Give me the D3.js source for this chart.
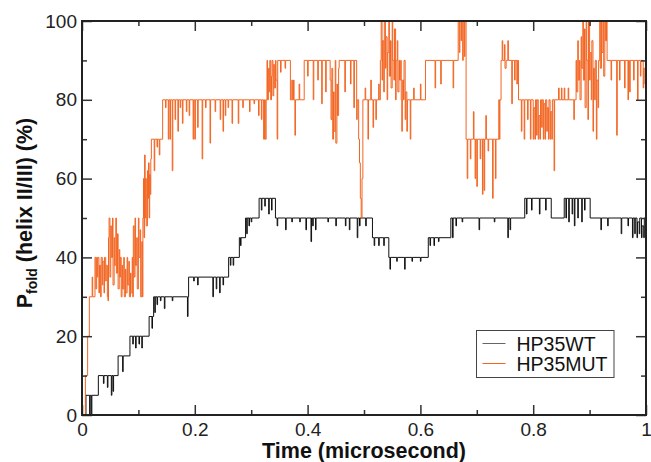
<!DOCTYPE html>
<html>
<head>
<meta charset="utf-8">
<script src="https://cdn.jsdelivr.net/npm/d3@7"></script>
<style>
  body { margin: 0; background: #fff; }
  text { font-family: "Liberation Sans", Arial, Helvetica, sans-serif; }
</style>
</head>
<body>
<div id="chart"></div>
<script>
// axis ticks
const timeTicks = [0, 0.2, 0.4, 0.6, 0.8, 1];
const timeMinorTicks = [0.1, 0.3, 0.5, 0.7, 0.9];
const pfoldTicks = [0, 20, 40, 60, 80, 100];
const pfoldMinorTicks = [10, 30, 50, 70, 90];
const seriesNames = ["HP35WT", "HP35MUT"];

// [time (microsecond), Pfold (%)], step-after
const wtTrace = [
  [0.000, 0], [0.007, 5], [0.0135, 0], [0.0145, 5], [0.0165, 0], [0.0175, 5], [0.029, 10], [0.038, 8], [0.039, 10],
  [0.045, 7], [0.046, 10], [0.052, 5], [0.053, 10], [0.055, 6], [0.056, 10], [0.064, 15], [0.072, 11], [0.073, 15],
  [0.085, 20], [0.090, 18], [0.091, 20], [0.095, 17], [0.096, 20], [0.101, 18], [0.102, 20], [0.106, 17], [0.107, 20],
  [0.119, 25], [0.124, 22], [0.125, 25], [0.127, 30], [0.129, 26], [0.130, 30], [0.133, 28], [0.134, 30], [0.139, 29],
  [0.140, 30], [0.146, 27], [0.147, 30], [0.160, 29], [0.161, 30], [0.187, 25], [0.188, 30], [0.189, 35], [0.198, 34],
  [0.199, 35], [0.205, 33], [0.206, 35], [0.232, 30], [0.233, 35], [0.238, 32], [0.239, 35], [0.244, 31], [0.245, 35],
  [0.250, 33], [0.251, 35], [0.260, 40], [0.263, 38], [0.264, 40], [0.268, 38], [0.269, 40], [0.279, 45], [0.281, 43],
  [0.282, 45], [0.290, 50], [0.292, 46], [0.293, 50], [0.296, 48], [0.297, 50], [0.300, 49], [0.301, 50], [0.314, 55],
  [0.318, 52], [0.319, 55], [0.324, 53], [0.325, 55], [0.331, 51], [0.332, 55], [0.336, 52], [0.337, 55], [0.343, 50],
  [0.346, 48], [0.347, 50], [0.361, 47], [0.362, 50], [0.372, 49], [0.373, 50], [0.386, 49], [0.387, 50], [0.397, 47],
  [0.398, 50], [0.406, 44], [0.407, 50], [0.409, 48], [0.410, 50], [0.414, 47], [0.415, 50], [0.436, 49], [0.437, 50],
  [0.450, 48], [0.451, 50], [0.467, 48], [0.468, 50], [0.474, 47], [0.475, 50], [0.488, 45], [0.489, 50], [0.492, 48],
  [0.493, 50], [0.503, 48], [0.504, 50], [0.515, 45], [0.518, 43], [0.519, 45], [0.526, 43], [0.527, 45], [0.535, 43],
  [0.536, 45], [0.544, 40], [0.546, 37], [0.547, 40], [0.558, 39], [0.559, 40], [0.572, 37], [0.573, 40], [0.585, 39],
  [0.586, 40], [0.600, 39], [0.601, 40], [0.614, 45], [0.617, 43], [0.618, 45], [0.624, 43], [0.625, 45], [0.632, 44],
  [0.633, 45], [0.654, 50], [0.657, 45], [0.658, 50], [0.663, 48], [0.664, 50], [0.674, 49], [0.675, 50], [0.704, 47],
  [0.705, 50], [0.731, 49], [0.732, 50], [0.755, 45], [0.756, 50], [0.759, 47], [0.760, 50], [0.785, 55], [0.788, 51],
  [0.789, 55], [0.797, 52], [0.798, 55], [0.811, 51], [0.812, 55], [0.822, 52], [0.823, 55], [0.832, 50], [0.855, 55],
  [0.858, 50], [0.859, 55], [0.863, 49], [0.864, 55], [0.869, 51], [0.870, 55], [0.873, 48], [0.874, 55], [0.879, 50],
  [0.880, 55], [0.886, 49], [0.887, 55], [0.891, 52], [0.892, 55], [0.901, 50], [0.920, 47], [0.921, 50], [0.932, 48],
  [0.933, 50], [0.956, 46], [0.957, 50], [0.968, 48], [0.969, 50], [0.976, 45], [0.977, 50], [0.980, 46], [0.981, 50],
  [0.984, 45], [0.985, 49], [0.988, 46], [0.989, 50], [0.992, 45], [0.993, 48], [0.996, 45], [0.997, 50], [1.000, 50]
];

const mutTrace = [
  [0.000, 0], [0.006, 10], [0.010, 20], [0.013, 30], [0.018, 35], [0.019, 30],
  [0.023, 40], [0.0245, 32], [0.026, 40], [0.027, 35], [0.028, 40], [0.030, 31], [0.031, 38], [0.033, 30], [0.034, 40],
  [0.036, 33], [0.037, 39], [0.039, 31], [0.040, 40], [0.042, 34], [0.043, 38], [0.045, 30], [0.046, 29],
  [0.047, 45], [0.048, 50], [0.0495, 35], [0.051, 48], [0.052, 40], [0.054, 50], [0.055, 33], [0.057, 45], [0.058, 38],
  [0.060, 50], [0.061, 36], [0.063, 46], [0.064, 32], [0.066, 42], [0.067, 35],
  [0.068, 40], [0.0695, 30], [0.071, 38], [0.072, 32], [0.074, 40], [0.075, 30], [0.077, 37], [0.078, 31], [0.080, 40],
  [0.081, 33], [0.083, 39], [0.084, 30], [0.086, 36], [0.087, 31], [0.089, 40], [0.090, 30],
  [0.091, 48], [0.0925, 35], [0.094, 50], [0.095, 38], [0.097, 45], [0.098, 32], [0.100, 50], [0.101, 40], [0.103, 47],
  [0.104, 30], [0.106, 44], [0.107, 30],
  [0.108, 50], [0.109, 60], [0.110, 45], [0.111, 66], [0.112, 50], [0.113, 60], [0.114, 48], [0.116, 62], [0.117, 55],
  [0.118, 64], [0.119, 50], [0.120, 61], [0.121, 56], [0.122, 65],
  [0.123, 70], [0.128, 62], [0.129, 70], [0.133, 68], [0.134, 70], [0.137, 66], [0.138, 70],
  [0.143, 80], [0.148, 78], [0.149, 80], [0.153, 70], [0.154, 80], [0.156, 70], [0.157, 80], [0.160, 62], [0.161, 80],
  [0.165, 75], [0.166, 80], [0.170, 72], [0.171, 80], [0.174, 78], [0.175, 80], [0.178, 74], [0.179, 80], [0.185, 77],
  [0.186, 80], [0.190, 76], [0.191, 80], [0.197, 70], [0.198, 80], [0.200, 70], [0.201, 80], [0.205, 73], [0.206, 80],
  [0.213, 65], [0.214, 80], [0.219, 78], [0.220, 80], [0.227, 69], [0.228, 80], [0.236, 77], [0.237, 80], [0.245, 75],
  [0.246, 80], [0.250, 72], [0.251, 80], [0.254, 76], [0.255, 80], [0.259, 78], [0.260, 80], [0.266, 74], [0.267, 80],
  [0.277, 74], [0.278, 80], [0.285, 78], [0.286, 80], [0.297, 77], [0.298, 80], [0.305, 79], [0.306, 80], [0.313, 76],
  [0.314, 80], [0.318, 75], [0.319, 80], [0.322, 70], [0.3235, 80], [0.325, 70], [0.3265, 80],
  [0.328, 90], [0.329, 80], [0.3305, 88], [0.332, 82], [0.333, 90], [0.3345, 80], [0.336, 86], [0.337, 90], [0.3385, 81],
  [0.340, 89], [0.341, 83], [0.343, 90], [0.344, 85], [0.346, 70], [0.347, 90], [0.352, 87], [0.353, 90], [0.360, 88],
  [0.361, 90],
  [0.3695, 80], [0.372, 85], [0.373, 80], [0.375, 85], [0.376, 80], [0.3775, 71], [0.3785, 80], [0.385, 84], [0.386, 80],
  [0.394, 90], [0.400, 86], [0.401, 90], [0.410, 80], [0.411, 90], [0.418, 85], [0.419, 90], [0.425, 79], [0.426, 90],
  [0.432, 82], [0.433, 90],
  [0.440, 85], [0.4415, 75], [0.443, 88], [0.4445, 70], [0.446, 82], [0.447, 72], [0.449, 90], [0.450, 69], [0.452, 84],
  [0.453, 76], [0.455, 88], [0.456, 90],
  [0.466, 82], [0.467, 90], [0.476, 84], [0.477, 90], [0.482, 78], [0.483, 90], [0.487, 75], [0.488, 80], [0.4905, 70],
  [0.492, 64], [0.4935, 55], [0.495, 50], [0.4965, 60], [0.498, 80],
  [0.502, 83], [0.503, 80], [0.507, 70], [0.508, 80], [0.512, 85], [0.513, 80], [0.516, 73], [0.517, 80], [0.521, 75],
  [0.522, 80], [0.526, 84], [0.527, 80],
  [0.529, 90], [0.5305, 100], [0.532, 85], [0.533, 95], [0.535, 82], [0.536, 100], [0.538, 88], [0.539, 96], [0.541, 80],
  [0.542, 92], [0.544, 100], [0.545, 86], [0.547, 95], [0.548, 83], [0.550, 100], [0.551, 90], [0.553, 85], [0.554, 98],
  [0.556, 80], [0.557, 90], [0.559, 95], [0.560, 82], [0.562, 90], [0.563, 85], [0.565, 90],
  [0.566, 80], [0.567, 72], [0.568, 85], [0.570, 80], [0.571, 90], [0.573, 75], [0.574, 82], [0.576, 72], [0.577, 80],
  [0.582, 70], [0.583, 80], [0.588, 83], [0.589, 80], [0.600, 84], [0.601, 80],
  [0.609, 90], [0.626, 83], [0.627, 90], [0.636, 84], [0.637, 90], [0.658, 83], [0.659, 90],
  [0.667, 100], [0.669, 92], [0.670, 100], [0.672, 95], [0.673, 100], [0.675, 90], [0.676, 100], [0.678, 91], [0.679, 100],
  [0.681, 70], [0.683, 60], [0.684, 70], [0.6885, 65], [0.6895, 70], [0.694, 77], [0.695, 70], [0.697, 60], [0.698, 70],
  [0.700, 58], [0.701, 70], [0.706, 65], [0.707, 70], [0.710, 56], [0.711, 70], [0.713, 57], [0.714, 70], [0.716, 76],
  [0.717, 70], [0.720, 67], [0.721, 70], [0.728, 55], [0.729, 70], [0.733, 60], [0.734, 70], [0.739, 80], [0.740, 70],
  [0.741, 80], [0.743, 90], [0.745, 95], [0.746, 90], [0.749, 94], [0.750, 88], [0.752, 90], [0.755, 95], [0.756, 90],
  [0.762, 79], [0.763, 90], [0.767, 85], [0.768, 90], [0.771, 84], [0.772, 90],
  [0.774, 80], [0.779, 72], [0.780, 80], [0.784, 70], [0.785, 80], [0.790, 75], [0.791, 80], [0.795, 70], [0.796, 80],
  [0.800, 70], [0.801, 78], [0.803, 70], [0.804, 80], [0.806, 71], [0.807, 80], [0.809, 70], [0.810, 76], [0.812, 70],
  [0.813, 80], [0.815, 73], [0.816, 80], [0.818, 70], [0.819, 79], [0.821, 70], [0.822, 80], [0.824, 72], [0.825, 78],
  [0.827, 70], [0.828, 80], [0.830, 70], [0.831, 77], [0.833, 70], [0.834, 80],
  [0.837, 62], [0.838, 80], [0.845, 83], [0.846, 80], [0.850, 83], [0.851, 80], [0.855, 83], [0.856, 80], [0.862, 83],
  [0.863, 80], [0.872, 75], [0.873, 80],
  [0.876, 90], [0.877, 82], [0.879, 95], [0.880, 85], [0.882, 90], [0.883, 80], [0.885, 96], [0.886, 88], [0.888, 100],
  [0.889, 85], [0.891, 98], [0.892, 78], [0.894, 100], [0.895, 90], [0.897, 75], [0.898, 100], [0.900, 85], [0.901, 92],
  [0.903, 80], [0.904, 95], [0.906, 72], [0.907, 88], [0.909, 80], [0.910, 90], [0.912, 70], [0.913, 85], [0.915, 78],
  [0.916, 90], [0.918, 100], [0.919, 88], [0.921, 100], [0.922, 92], [0.924, 100], [0.925, 86], [0.927, 100], [0.928, 95],
  [0.930, 100], [0.931, 90],
  [0.938, 85], [0.939, 90], [0.948, 71], [0.949, 90], [0.953, 85], [0.954, 90], [0.962, 83], [0.963, 90], [0.968, 80],
  [0.969, 90], [0.971, 82], [0.972, 90], [0.978, 85], [0.979, 90], [0.985, 80], [0.986, 90], [0.990, 86], [0.991, 90],
  [0.995, 83], [0.996, 88], [0.998, 84], [1.000, 90]
];

const colors = ["#111111", "#f26522"];

const W = 651, H = 462;
const margin = { top: 21, right: 5, bottom: 47, left: 82 };
const iw = W - margin.left - margin.right;
const ih = H - margin.top - margin.bottom;

const svg = d3.select("#chart").append("svg").attr("width", W).attr("height", H);
const g = svg.append("g").attr("transform", `translate(${margin.left},${margin.top})`);

const x = d3.scaleLinear().domain([0, 1]).range([0, iw]);
const y = d3.scaleLinear().domain([0, 100]).range([ih, 0]);
const fmt = d3.format("~g");

// --- traces ---
const line = d3.line().x(d => x(d[0])).y(d => y(d[1])).curve(d3.curveStepAfter);
[wtTrace, mutTrace].forEach((trace, i) => {
  g.append("path")
    .datum(trace)
    .attr("fill", "none")
    .attr("stroke", colors[i])
    .attr("stroke-width", 1)
    .attr("d", line);
});

// --- axes, ticks point inward on all four sides ---
function styleAxis(sel) {
  sel.select(".domain").remove();
  sel.selectAll(".tick line").attr("stroke", "#333").attr("stroke-width", 1.5);
  sel.selectAll(".tick text").attr("font-size", 19).attr("fill", "#222")
    .style("font-family", '"Liberation Sans", Arial, sans-serif');
}

g.append("g").attr("transform", `translate(0,${ih})`)
  .call(d3.axisBottom(x).tickValues(timeTicks).tickSize(-10).tickPadding(8).tickFormat(fmt))
  .call(styleAxis);
g.append("g").attr("transform", `translate(0,${ih})`)
  .call(d3.axisBottom(x).tickValues(timeMinorTicks).tickSize(-5).tickFormat(""))
  .call(styleAxis);
g.append("g")
  .call(d3.axisTop(x).tickValues(timeTicks).tickSize(-10).tickFormat(""))
  .call(styleAxis);
g.append("g")
  .call(d3.axisTop(x).tickValues(timeMinorTicks).tickSize(-5).tickFormat(""))
  .call(styleAxis);

g.append("g")
  .call(d3.axisLeft(y).tickValues(pfoldTicks).tickSize(-10).tickPadding(5).tickFormat(fmt))
  .call(styleAxis);
g.append("g")
  .call(d3.axisLeft(y).tickValues(pfoldMinorTicks).tickSize(-5).tickFormat(""))
  .call(styleAxis);
g.append("g").attr("transform", `translate(${iw},0)`)
  .call(d3.axisRight(y).tickValues(pfoldTicks).tickSize(-10).tickFormat(""))
  .call(styleAxis);
g.append("g").attr("transform", `translate(${iw},0)`)
  .call(d3.axisRight(y).tickValues(pfoldMinorTicks).tickSize(-5).tickFormat(""))
  .call(styleAxis);

// frame
g.append("rect")
  .attr("width", iw).attr("height", ih)
  .attr("fill", "none").attr("stroke", "#222").attr("stroke-width", 2);

// --- axis titles ---
svg.append("text")
  .attr("x", margin.left + iw / 2).attr("y", 458)
  .attr("text-anchor", "middle")
  .attr("font-size", 21.5).attr("font-weight", "bold").attr("fill", "#111")
  .text("Time (microsecond)");

const yTitle = svg.append("text")
  .attr("transform", "translate(31.5,213) rotate(-90)")
  .attr("text-anchor", "middle")
  .attr("font-size", 21.5).attr("font-weight", "bold").attr("fill", "#111");
yTitle.append("tspan").text("P");
yTitle.append("tspan").attr("font-size", 14).attr("dy", 5).text("fold");
yTitle.append("tspan").attr("dy", -5).text(" (helix II/III) (%)");

// --- legend ---
const legend = svg.append("g").attr("transform", "translate(476.5,330.5)");
legend.append("rect")
  .attr("width", 137.5).attr("height", 47)
  .attr("fill", "#fff").attr("stroke", "#444").attr("stroke-width", 1);
seriesNames.forEach((name, i) => {
  const ly = 13 + i * 20;
  legend.append("line")
    .attr("x1", 6).attr("x2", 29).attr("y1", ly).attr("y2", ly)
    .attr("stroke", i === 0 ? "#666666" : colors[i]).attr("stroke-width", 1);
  legend.append("text")
    .attr("x", 40).attr("y", ly + 7)
    .attr("font-size", 19.5).attr("fill", "#111")
    .text(name);
});
</script>
</body>
</html>
